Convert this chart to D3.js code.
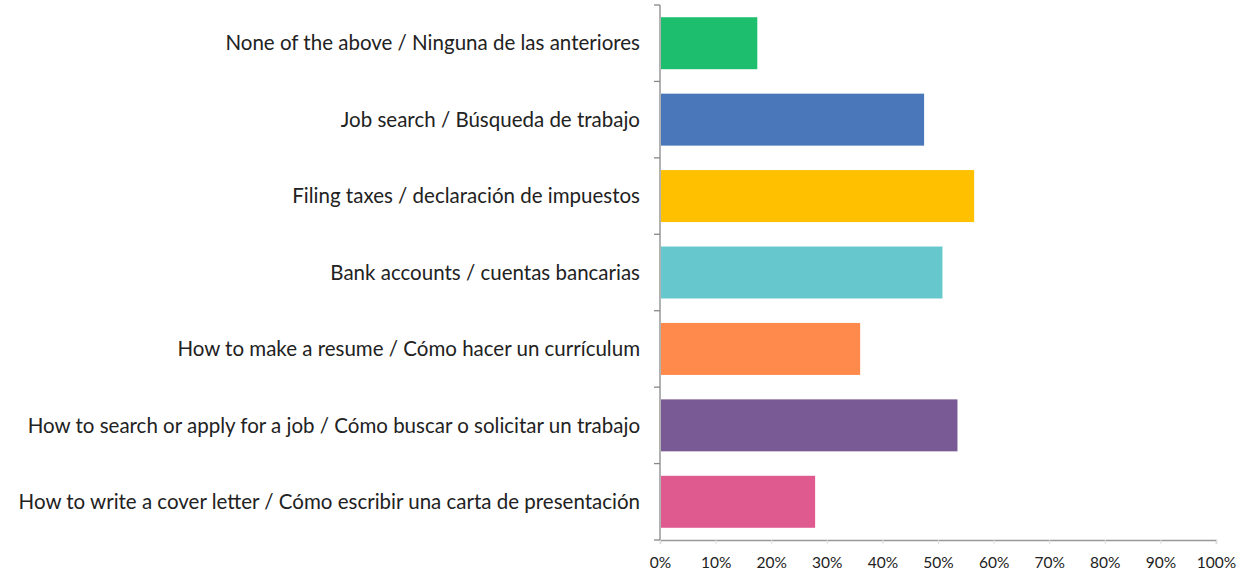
<!DOCTYPE html>
<html><head><meta charset="utf-8">
<script src="https://cdn.jsdelivr.net/npm/d3@7"></script>
<style>body{margin:0;background:#fff}svg{display:block}</style>
</head><body><svg id="c" width="1241" height="575"></svg>
<script>
const categories = [
  "None of the above / Ninguna de las anteriores",
  "Job search / Búsqueda de trabajo",
  "Filing taxes / declaración de impuestos",
  "Bank accounts / cuentas bancarias",
  "How to make a resume / Cómo hacer un currículum",
  "How to search or apply for a job / Cómo buscar o solicitar un trabajo",
  "How to write a cover letter / Cómo escribir una carta de presentación"
];
const values = [0.175, 0.475, 0.565, 0.508, 0.36, 0.535, 0.279];
const colors = ["#1DBF6E", "#4A77B9", "#FFC000", "#66C8CD", "#FF8A4C", "#7A5A95", "#DF5A8F"];
const xTicks = [0,0.1,0.2,0.3,0.4,0.5,0.6,0.7,0.8,0.9,1.0];

const svg = d3.select("#c");
const font = "Lato, 'Open Sans', sans-serif";
const x = d3.scaleLinear().domain([0,1]).range([660,1216]);
const y = d3.scaleBand().domain(categories).range([5,540]).paddingInner(0.32).paddingOuter(0.16);

svg.selectAll("rect.bar").data(categories).join("rect")
  .attr("class","bar")
  .attr("x", x(0)+1)
  .attr("y", d=>y(d))
  .attr("width", (d,i)=>x(values[i])-x(0)-1)
  .attr("height", y.bandwidth())
  .attr("fill", (d,i)=>colors[i]);

// y axis line and ticks
svg.append("line").attr("x1",660).attr("x2",660).attr("y1",5).attr("y2",540)
  .attr("stroke","#888").attr("stroke-width",1.3);
svg.selectAll("line.yt").data(d3.range(categories.length+1)).join("line").attr("class","yt")
  .attr("x1",654).attr("x2",660)
  .attr("y1",i=> 5 + i*(535/categories.length)).attr("y2",i=> 5 + i*(535/categories.length))
  .attr("stroke","#888").attr("stroke-width",1.3);

// x axis
const xAxis = d3.axisBottom(x).tickValues(xTicks).tickFormat(d3.format(".0%")).tickSize(4).tickPadding(13);
const gx = svg.append("g").attr("transform","translate(0,540)").call(xAxis);
gx.select(".domain").attr("stroke","#999").attr("stroke-width",1.3);
gx.selectAll(".tick line").attr("stroke","#ddd");
gx.selectAll("text").attr("font-family",font).attr("font-size",15.5).attr("fill","#222");

// category labels
svg.selectAll("text.cat").data(categories).join("text").attr("class","cat")
  .attr("x",640).attr("y",d=>y(d)+y.bandwidth()/2).attr("dy","0.35em")
  .attr("text-anchor","end").attr("font-family",font).attr("font-size",20.5).attr("fill","#222")
  .text(d=>d);
</script></body></html>
